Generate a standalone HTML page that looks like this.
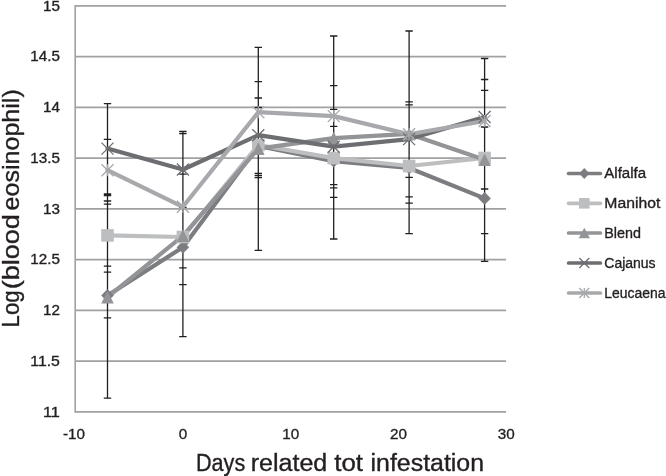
<!DOCTYPE html>
<html><head><meta charset="utf-8"><title>Chart</title>
<style>html,body{margin:0;padding:0;background:#fff}svg{display:block}text{font-family:"Liberation Sans",sans-serif;fill:#231f20;stroke:#231f20;stroke-width:.35px}</style></head><body>
<svg width="666" height="476" viewBox="0 0 666 476">
<rect width="666" height="476" fill="#fff"/>
<line x1="75.2" y1="5.90" x2="506.1" y2="5.90" stroke="#a0a1a3" stroke-width="1.6"/>
<line x1="75.2" y1="56.65" x2="506.1" y2="56.65" stroke="#a0a1a3" stroke-width="1.6"/>
<line x1="75.2" y1="107.40" x2="506.1" y2="107.40" stroke="#a0a1a3" stroke-width="1.6"/>
<line x1="75.2" y1="158.15" x2="506.1" y2="158.15" stroke="#a0a1a3" stroke-width="1.6"/>
<line x1="75.2" y1="208.90" x2="506.1" y2="208.90" stroke="#a0a1a3" stroke-width="1.6"/>
<line x1="75.2" y1="259.65" x2="506.1" y2="259.65" stroke="#a0a1a3" stroke-width="1.6"/>
<line x1="75.2" y1="310.40" x2="506.1" y2="310.40" stroke="#a0a1a3" stroke-width="1.6"/>
<line x1="75.2" y1="361.15" x2="506.1" y2="361.15" stroke="#a0a1a3" stroke-width="1.6"/>
<line x1="75.2" y1="411.90" x2="506.1" y2="411.90" stroke="#a0a1a3" stroke-width="1.6"/>
<line x1="75.2" y1="5.1" x2="75.2" y2="412.7" stroke="#a0a1a3" stroke-width="1.6"/>
<text x="59.9" y="10.5" font-size="15" text-anchor="end" textLength="16.93" lengthAdjust="spacingAndGlyphs">15</text>
<text x="59.9" y="61.2" font-size="15" text-anchor="end" textLength="29.63" lengthAdjust="spacingAndGlyphs">14.5</text>
<text x="59.9" y="112.0" font-size="15" text-anchor="end" textLength="16.93" lengthAdjust="spacingAndGlyphs">14</text>
<text x="59.9" y="162.8" font-size="15" text-anchor="end" textLength="29.63" lengthAdjust="spacingAndGlyphs">13.5</text>
<text x="59.9" y="213.5" font-size="15" text-anchor="end" textLength="16.93" lengthAdjust="spacingAndGlyphs">13</text>
<text x="59.9" y="264.2" font-size="15" text-anchor="end" textLength="29.63" lengthAdjust="spacingAndGlyphs">12.5</text>
<text x="59.9" y="315.0" font-size="15" text-anchor="end" textLength="16.93" lengthAdjust="spacingAndGlyphs">12</text>
<text x="59.9" y="365.8" font-size="15" text-anchor="end" textLength="29.63" lengthAdjust="spacingAndGlyphs">11.5</text>
<text x="59.9" y="416.5" font-size="15" text-anchor="end" textLength="16.93" lengthAdjust="spacingAndGlyphs">11</text>
<text x="74.0" y="438.5" font-size="15" text-anchor="middle" textLength="22.00" lengthAdjust="spacingAndGlyphs">-10</text>
<text x="183.1" y="438.5" font-size="15" text-anchor="middle" textLength="8.47" lengthAdjust="spacingAndGlyphs">0</text>
<text x="290.8" y="438.5" font-size="15" text-anchor="middle" textLength="16.93" lengthAdjust="spacingAndGlyphs">10</text>
<text x="398.6" y="438.5" font-size="15" text-anchor="middle" textLength="16.93" lengthAdjust="spacingAndGlyphs">20</text>
<text x="506.3" y="438.5" font-size="15" text-anchor="middle" textLength="16.93" lengthAdjust="spacingAndGlyphs">30</text>
<line x1="107.5" y1="103.7" x2="107.5" y2="398.2" stroke="#231f20" stroke-width="1.3"/>
<path d="M103.8 103.7H111.2M103.8 139.4H111.2M103.8 194.0H111.2M103.8 195.5H111.2M103.8 201.0H111.2M103.8 204.2H111.2M103.8 266.2H111.2M103.8 272.1H111.2M103.8 317.9H111.2M103.8 398.2H111.2" stroke="#231f20" stroke-width="1.3" fill="none"/>
<line x1="182.9" y1="131.4" x2="182.9" y2="336.6" stroke="#231f20" stroke-width="1.3"/>
<path d="M179.2 131.4H186.6M179.2 133.5H186.6M179.2 174.1H186.6M179.2 207.3H186.6M179.2 267.9H186.6M179.2 284.7H186.6M179.2 336.6H186.6" stroke="#231f20" stroke-width="1.3" fill="none"/>
<line x1="258.3" y1="47.3" x2="258.3" y2="250.3" stroke="#231f20" stroke-width="1.3"/>
<path d="M254.6 47.3H262.0M254.6 81.6H262.0M254.6 98.0H262.0M254.6 107.5H262.0M254.6 173.4H262.0M254.6 175.5H262.0M254.6 177.6H262.0M254.6 250.3H262.0" stroke="#231f20" stroke-width="1.3" fill="none"/>
<line x1="333.7" y1="36.0" x2="333.7" y2="239.0" stroke="#231f20" stroke-width="1.3"/>
<path d="M330.0 36.0H337.4M330.0 85.6H337.4M330.0 109.3H337.4M330.0 126.3H337.4M330.0 184.7H337.4M330.0 187.9H337.4M330.0 197.3H337.4M330.0 239.0H337.4" stroke="#231f20" stroke-width="1.3" fill="none"/>
<line x1="409.1" y1="31.0" x2="409.1" y2="233.7" stroke="#231f20" stroke-width="1.3"/>
<path d="M405.4 31.0H412.8M405.4 101.8H412.8M405.4 104.8H412.8M405.4 177.4H412.8M405.4 196.9H412.8M405.4 203.2H412.8M405.4 233.7H412.8" stroke="#231f20" stroke-width="1.3" fill="none"/>
<line x1="484.6" y1="58.5" x2="484.6" y2="261.4" stroke="#231f20" stroke-width="1.3"/>
<path d="M480.9 58.5H488.3M480.9 79.5H488.3M480.9 90.3H488.3M480.9 127.0H488.3M480.9 189.0H488.3M480.9 233.7H488.3M480.9 261.4H488.3" stroke="#231f20" stroke-width="1.3" fill="none"/>
<polyline points="107.5,295.4 182.9,247.3 258.3,146.0 333.7,161.2 409.1,168.0 484.6,198.4" fill="none" stroke="#7c7d80" stroke-width="4.2" stroke-linejoin="round" stroke-linecap="round"/>
<polyline points="107.5,235.4 182.9,237.0 258.3,145.0 333.7,158.1 409.1,166.0 484.6,158.0" fill="none" stroke="#bdbec0" stroke-width="4.2" stroke-linejoin="round" stroke-linecap="round"/>
<polyline points="107.5,297.2 182.9,235.8 258.3,148.6 333.7,138.1 409.1,133.9 484.6,159.7" fill="none" stroke="#939497" stroke-width="4.2" stroke-linejoin="round" stroke-linecap="round"/>
<polyline points="107.5,148.6 182.9,169.5 258.3,135.2 333.7,146.7 409.1,139.1 484.6,117.0" fill="none" stroke="#6d6e71" stroke-width="4.2" stroke-linejoin="round" stroke-linecap="round"/>
<polyline points="107.5,170.2 182.9,206.8 258.3,112.2 333.7,116.1 409.1,134.3 484.6,121.0" fill="none" stroke="#a7a9ac" stroke-width="4.2" stroke-linejoin="round" stroke-linecap="round"/>
<path d="M101.2 295.4L107.5 289.1L113.8 295.4L107.5 301.7Z" fill="#7c7d80"/>
<path d="M176.6 247.3L182.9 241.0L189.2 247.3L182.9 253.6Z" fill="#7c7d80"/>
<path d="M252.0 146.0L258.3 139.7L264.6 146.0L258.3 152.3Z" fill="#7c7d80"/>
<path d="M327.4 161.2L333.7 154.9L340.0 161.2L333.7 167.5Z" fill="#7c7d80"/>
<path d="M402.8 168.0L409.1 161.7L415.4 168.0L409.1 174.3Z" fill="#7c7d80"/>
<path d="M478.3 198.4L484.6 192.1L490.9 198.4L484.6 204.7Z" fill="#7c7d80"/>
<rect x="101.2" y="229.1" width="12.6" height="12.6" fill="#bdbec0"/>
<rect x="176.6" y="230.7" width="12.6" height="12.6" fill="#bdbec0"/>
<rect x="252.0" y="138.7" width="12.6" height="12.6" fill="#bdbec0"/>
<rect x="327.4" y="151.8" width="12.6" height="12.6" fill="#bdbec0"/>
<rect x="402.8" y="159.7" width="12.6" height="12.6" fill="#bdbec0"/>
<rect x="478.3" y="151.7" width="12.6" height="12.6" fill="#bdbec0"/>
<path d="M101.2 303.5L107.5 290.9L113.8 303.5Z" fill="#939497"/>
<path d="M176.6 242.1L182.9 229.5L189.2 242.1Z" fill="#939497"/>
<path d="M252.0 154.9L258.3 142.3L264.6 154.9Z" fill="#939497"/>
<path d="M327.4 144.4L333.7 131.8L340.0 144.4Z" fill="#939497"/>
<path d="M402.8 140.2L409.1 127.6L415.4 140.2Z" fill="#939497"/>
<path d="M478.3 166.0L484.6 153.4L490.9 166.0Z" fill="#939497"/>
<path d="M101.5 142.6L113.5 154.6M101.5 154.6L113.5 142.6" stroke="#6d6e71" stroke-width="1.3" fill="none"/>
<path d="M176.9 163.5L188.9 175.5M176.9 175.5L188.9 163.5" stroke="#6d6e71" stroke-width="1.3" fill="none"/>
<path d="M252.3 129.2L264.3 141.2M252.3 141.2L264.3 129.2" stroke="#6d6e71" stroke-width="1.3" fill="none"/>
<path d="M327.7 140.7L339.7 152.7M327.7 152.7L339.7 140.7" stroke="#6d6e71" stroke-width="1.3" fill="none"/>
<path d="M403.1 133.1L415.1 145.1M403.1 145.1L415.1 133.1" stroke="#6d6e71" stroke-width="1.3" fill="none"/>
<path d="M478.6 111.0L490.6 123.0M478.6 123.0L490.6 111.0" stroke="#6d6e71" stroke-width="1.3" fill="none"/>
<path d="M101.5 164.2L113.5 176.2M101.5 176.2L113.5 164.2M107.5 164.2L107.5 176.2" stroke="#a7a9ac" stroke-width="1.3" fill="none"/>
<path d="M176.9 200.8L188.9 212.8M176.9 212.8L188.9 200.8M182.9 200.8L182.9 212.8" stroke="#a7a9ac" stroke-width="1.3" fill="none"/>
<path d="M252.3 106.2L264.3 118.2M252.3 118.2L264.3 106.2M258.3 106.2L258.3 118.2" stroke="#a7a9ac" stroke-width="1.3" fill="none"/>
<path d="M327.7 110.1L339.7 122.1M327.7 122.1L339.7 110.1M333.7 110.1L333.7 122.1" stroke="#a7a9ac" stroke-width="1.3" fill="none"/>
<path d="M403.1 128.3L415.1 140.3M403.1 140.3L415.1 128.3M409.1 128.3L409.1 140.3" stroke="#a7a9ac" stroke-width="1.3" fill="none"/>
<path d="M478.6 115.0L490.6 127.0M478.6 127.0L490.6 115.0M484.6 115.0L484.6 127.0" stroke="#a7a9ac" stroke-width="1.3" fill="none"/>
<line x1="568.6" y1="173.5" x2="600.4" y2="173.5" stroke="#7c7d80" stroke-width="3.7" stroke-linecap="round"/>
<path d="M579.2 173.5L584.3 168.0L589.4 173.5L584.3 179.0Z" fill="#7c7d80"/>
<text x="604.3" y="178.2" font-size="15.2" textLength="41.8" lengthAdjust="spacingAndGlyphs">Alfalfa</text>
<line x1="568.6" y1="203.3" x2="600.4" y2="203.3" stroke="#bdbec0" stroke-width="3.7" stroke-linecap="round"/>
<rect x="579.0" y="198.0" width="10.6" height="10.6" fill="#bdbec0"/>
<text x="604.3" y="208.0" font-size="15.2" textLength="56.0" lengthAdjust="spacingAndGlyphs">Manihot</text>
<line x1="568.6" y1="233.0" x2="600.4" y2="233.0" stroke="#939497" stroke-width="3.7" stroke-linecap="round"/>
<path d="M578.7 238.3L584.3 227.7L589.9 238.3Z" fill="#939497"/>
<text x="604.3" y="237.7" font-size="15.2" textLength="36.7" lengthAdjust="spacingAndGlyphs">Blend</text>
<line x1="568.6" y1="263.0" x2="600.4" y2="263.0" stroke="#6d6e71" stroke-width="3.7" stroke-linecap="round"/>
<path d="M579.3 258.0L589.3 268.0M579.3 268.0L589.3 258.0" stroke="#6d6e71" stroke-width="1.3" fill="none"/>
<text x="604.3" y="267.7" font-size="15.2" textLength="51.3" lengthAdjust="spacingAndGlyphs">Cajanus</text>
<line x1="568.6" y1="293.0" x2="600.4" y2="293.0" stroke="#a7a9ac" stroke-width="3.7" stroke-linecap="round"/>
<path d="M579.3 288.0L589.3 298.0M579.3 298.0L589.3 288.0M584.3 288.0L584.3 298.0" stroke="#a7a9ac" stroke-width="1.3" fill="none"/>
<text x="604.3" y="297.7" font-size="15.2" textLength="61.3" lengthAdjust="spacingAndGlyphs">Leucaena</text>
<text y="470.9" font-size="23.1"><tspan x="196.01" textLength="49.20" lengthAdjust="spacingAndGlyphs">Days</tspan> <tspan x="250.70" textLength="76.63" lengthAdjust="spacingAndGlyphs">related</tspan> <tspan x="334.27" textLength="28.81" lengthAdjust="spacingAndGlyphs">tot</tspan> <tspan x="370.56" textLength="113.48" lengthAdjust="spacingAndGlyphs">infestation</tspan></text>
<text transform="translate(18.9 327.38) rotate(-90)" y="0" font-size="23.9"><tspan x="0.00" textLength="37.02" lengthAdjust="spacingAndGlyphs">Log</tspan> <tspan x="38.04" textLength="75.22" lengthAdjust="spacingAndGlyphs">(blood</tspan> <tspan x="116.95" textLength="121.22" lengthAdjust="spacingAndGlyphs">eosinophil)</tspan></text>
</svg></body></html>
